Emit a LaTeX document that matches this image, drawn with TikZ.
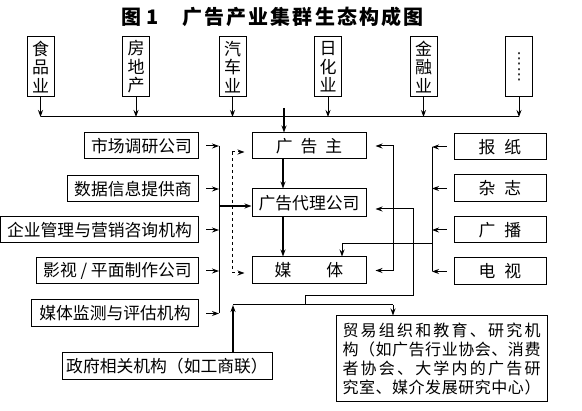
\documentclass[tikz,border=0pt]{standalone}
\usepackage{fontspec}
\setmainfont{Noto Sans CJK SC}
\newfontfamily\dejavu{DejaVu Sans}
\usetikzlibrary{arrows.meta}
\def\spr#1{#1\sprx}
\def\sprx#1{\ifx#1\relax\else\hfil#1\expandafter\sprx\fi}
\tikzset{
 box/.style={draw, line width=1pt, inner sep=0pt, font=\fontsize{16.8}{18}\selectfont},
 vbox/.style={box, minimum width=27pt, minimum height=60pt, align=center, font=\fontsize{17}{18.5}\selectfont},
 conn/.style={line width=1pt},
 arr/.style={conn, -{Stealth[length=7pt,width=5pt]}},
 dblarr/.style={conn, {Stealth[length=7pt,width=5pt]}-{Stealth[length=7pt,width=5pt]}},
 titlefont/.style={font=\bfseries\fontsize{20}{20}\selectfont, inner sep=0pt},
}
\begin{document}
\begin{tikzpicture}[x=1pt,y=-1pt]
\fill[white] (0,0) rectangle (582,411);
\useasboundingbox (0,0) rectangle (582,411);
% title
\node[titlefont] (tt1) at (140,17) {图 1};
\node[titlefont] (tt2) at (303,17) {\makebox[242pt][s]{\spr 广告产业集群生态构成图\relax}};
% top industries
\node[vbox] (t1) at (40.5,67) {食\\品\\业};
\node[vbox] (t2) at (136,67) {房\\地\\产};
\node[vbox] (t3) at (232.5,67) {汽\\车\\业};
\node[vbox] (t4) at (328,67) {日\\化\\业};
\node[vbox] (t5) at (423.5,67) {金\\融\\业};
\node[vbox] (t6) at (519,67) {};
\node[font=\dejavu\fontsize{15}{15.5}\selectfont, align=center, inner sep=0pt] (t6d) at (t6) {⋮\\⋮};
\coordinate (busL) at (40.5,117);
\coordinate (busR) at (519,117);
\foreach \i in {1,...,6} \draw[arr] (t\i.south) -- (t\i.south |- busL);
\draw[conn] (busL) -- (busR);
% middle column
\node[box, minimum width=114pt, minimum height=26pt] (ad) at (309,146) {广\hspace{8pt}告\hspace{8pt}主};
\node[box, minimum width=114pt, minimum height=28pt] (ag) at (309,203) {广告代理公司};
\node[box, minimum width=114pt, minimum height=27pt] (me) at (309,270.5) {媒\hspace{35pt}体};
\coordinate (stub) at (284,108);
\draw[arr, line width=1.3pt] (stub) -- (stub |- ad.north);
\coordinate (mx) at (283,0);
\draw[arr, line width=1.3pt] (ad.south -| mx) -- (ag.north -| mx);
\draw[arr, line width=1.3pt] (ag.south -| mx) -- (me.north -| mx);
% left boxes
\node[box, anchor=east, minimum width=114pt, minimum height=26pt] (l1) at (199,146) {市场调研公司};
\node[box, anchor=east, minimum width=131pt, minimum height=26pt] (l2) at (199,189) {数据信息提供商};
\node[box, anchor=east, minimum width=198pt, minimum height=26pt] (l3) at (199,230) {企业管理与营销咨询机构};
\node[box, anchor=east, minimum width=162pt, minimum height=26pt] (l4) at (199,271) {影视 / 平面制作公司};
\node[box, anchor=east, minimum width=167pt, minimum height=27pt] (l5) at (199,313.5) {媒体监测与评估机构};
\coordinate (lvT) at (219,146);
\coordinate (lvB) at (219,313.5);
\foreach \i in {1,...,5} \draw[arr, shorten <=7pt] (l\i.east) -- (l\i.east -| lvT);
\draw[conn] (lvT) -- (lvB);
\coordinate (lva) at (219,206);
\draw[arr, line width=1.3pt] (lva) -- (ag.west |- lva);
% dashed
\coordinate (dT) at (232,152);
\coordinate (dB) at (232,273);
\draw[conn, dashed] (dT) -- (dB);
\draw[arr, dashed, shorten >=7pt] (dT) -- (ad.west |- dT);
\draw[arr, dashed, shorten >=7pt] (dB) -- (me.west |- dB);
% right boxes
\node[box, minimum width=92pt, minimum height=26pt] (r1) at (500,147) {报\hspace{9pt}纸};
\node[box, minimum width=92pt, minimum height=27pt] (r2) at (500,188.5) {杂\hspace{9pt}志};
\node[box, minimum width=92pt, minimum height=26pt] (r3) at (500,230) {广\hspace{9pt}播};
\node[box, minimum width=92pt, minimum height=27pt] (r4) at (500,271.5) {电\hspace{9pt}视};
\coordinate (rbT) at (432,147);
\coordinate (rbB) at (432,271.5);
\foreach \i in {1,...,4} \draw[arr, shorten <=7pt] (r\i.west) -- (r\i.west -| rbT);
\draw[conn] (rbT) -- (rbB);
\coordinate (rj) at (432,244);
\coordinate (rk) at (342,244);
\draw[arr] (rj) -- (rk) -- (rk |- me.north);
% bracket between advertiser and media
\coordinate (bx) at (393,0);
\draw[dblarr, shorten <=9pt, shorten >=9pt] (ad.east) -- (ad.east -| bx) -- (me.east -| bx) -- (me.east);
% lower boxes
\node[box, minimum width=211pt, minimum height=86pt, align=center, font=\fontsize{16}{18.7}\selectfont] (ty) at (441.5,359)
 {\makebox[198pt][s]{\spr 贸易组织和教育、研究机\relax}\\
  \makebox[198pt][s]{\spr 构（如广告行业协会、消费\relax}\\
  \makebox[198pt][s]{\spr 者协会、大学内的广告研\relax}\\
  \makebox[198pt][s]{\spr 究室、媒介发展研究中心）\relax}};
\node[box, minimum width=210pt, minimum height=27pt] (gov) at (167,366.5) {政府相关机构（如工商联）};
\coordinate (hA) at (233,305);
\coordinate (hB) at (393,305);
\coordinate (jA) at (305,305);
\coordinate (jB) at (305,296);
\coordinate (jC) at (413,296);
\coordinate (jD) at (413,209);
\draw[conn] (hA) -- (hB);
\draw[arr, shorten >=9pt] (jA) -- (jB) -- (jC) -- (jD) -- (ag.east |- jD);
\draw[arr] (hB) -- (hB |- ty.north);
\draw[arr, line width=1.3pt] (gov.north -| hA) -- (hA);
\end{tikzpicture}
\end{document}
